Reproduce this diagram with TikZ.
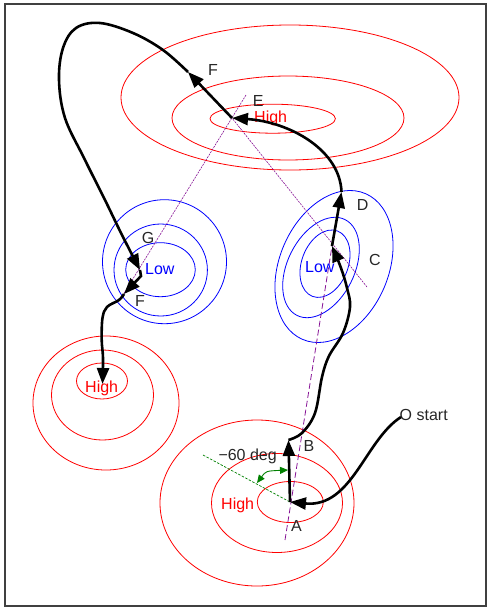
\documentclass[tikz,border=0pt]{standalone}
\usepackage{fontspec}
\setmainfont{Liberation Sans}
\usetikzlibrary{arrows.meta}
\definecolor{purp}{RGB}{135,20,150}
\definecolor{dgreen}{RGB}{0,128,0}
\begin{document}
\begin{tikzpicture}[x=1pt,y=-1pt,
  hi/.style={draw=red, line width=0.8pt},
  lo/.style={draw=blue, line width=0.8pt},
  track/.style={line width=2.6pt, -{Triangle[length=16pt,width=12pt]}},
  lbl/.style={anchor=base west, inner sep=0pt, font=\fontsize{16}{18}\selectfont, text=black!85},
  hilbl/.style={lbl, text=red},
  lolbl/.style={lbl, text=blue},
  axisdash/.style={draw=purp, dash pattern=on 6pt off 3pt, line width=0.8pt},
  axisdot/.style={draw=purp, dash pattern=on 2pt off 1pt, line width=0.6pt},
  greendash/.style={draw=dgreen, dash pattern=on 2.5pt off 1.5pt, line width=0.7pt},
  greenarc/.style={draw=dgreen, line width=0.9pt, {Triangle[length=8pt,width=7pt]}-{Triangle[length=8pt,width=7pt]}}
]
\useasboundingbox (0,0) rectangle (487,608);
\draw[black!75, line width=1.2pt] (5,4) rectangle (486,606);

% pressure systems
\draw[hi] (290,97.5) ellipse [x radius=169, y radius=72.5];
\draw[hi] (288,118) ellipse [x radius=116, y radius=42];
\draw[hi] (272.7,118.7) ellipse [x radius=62.7, y radius=14.5];

\draw[lo] (164.5,261.7) ellipse [x radius=62, y radius=62];
\draw[lo] (160.7,270) ellipse [x radius=46.7, y radius=46];
\draw[lo] (160.5,269.7) ellipse [x radius=34.8, y radius=27];

\draw[lo, rotate around={66.6:(334,266.5)}] (334,266.5) ellipse [x radius=79.4, y radius=54.4];
\draw[lo, rotate around={63.4:(321,267.5)}] (321,267.5) ellipse [x radius=53.6, y radius=33.4];
\draw[lo, rotate around={69:(325,263.7)}] (325,263.7) ellipse [x radius=35, y radius=23.2];

\draw[hi] (106,403) ellipse [x radius=73, y radius=67];
\draw[hi] (102.5,395) ellipse [x radius=51, y radius=45];
\draw[hi] (102,381) ellipse [x radius=25.5, y radius=18];

\draw[hi] (257,503) ellipse [x radius=97, y radius=83];
\draw[hi] (277,503) ellipse [x radius=65.5, y radius=49.5];
\draw[hi] (290.3,502) ellipse [x radius=33, y radius=20.5];

% track points
\coordinate (start) at (401,417);
\coordinate (A) at (290,502);
\coordinate (B) at (288.5,440);
\coordinate (C) at (332,246);
\coordinate (D) at (341.5,192);
\coordinate (E) at (232,118);
\coordinate (F) at (188,72);
\coordinate (G) at (140,270);
\coordinate (g1) at (141,276);
\coordinate (Fp) at (124,294);
\coordinate (H3) at (102.5,384);

% axes
\coordinate (p1) at (285,540);
\coordinate (p2) at (367,287);
\coordinate (p3) at (246,95);
\coordinate (p4) at (123,295);
\draw[axisdash] (p1) -- (C);
\draw[axisdot] (p2) -- (E);
\draw[axisdot] (p3) -- (p4);

% angle
\coordinate (gd) at (203,455);
\coordinate (ga1) at (257,483);
\coordinate (ga2) at (288,470);
\draw[greendash] (gd) -- (A);
\draw[greenarc] (ga1) .. controls (266,471) .. (ga2);

% labels
\node[hilbl] (tH) at (254,122) {High};
\node[lbl] (lE) at (252.7,106.7) {E};
\node[lbl] (lF) at (208,75) {F};
\node[lolbl] (lL) at (145,274) {Low};
\node[lbl] (lG) at (141.7,243.3) {G};
\node[lbl] (lF2) at (135,306) {F};
\node[lolbl] (rL) at (305,272.7) {Low};
\node[lbl] (lD) at (356.7,210) {D};
\node[lbl] (lC) at (369,265) {C};
\node[hilbl] (lH) at (85,392.3) {High};
\node[hilbl] (bH) at (221,509) {High};
\node[lbl] (lA) at (291,531.7) {A};
\node[lbl] (lB) at (303.3,451.7) {B};
\node[lbl] (ls) at (399.5,420) {O start};
\node[lbl] (ld) at (218.3,460) {−60 deg};

% track
\draw[track] (start) .. controls (365,440) and (352,508) .. (A);
\draw[track] (A) -- (B);
\draw[track] plot[smooth, tension=0.6] coordinates {(B) (302,433) (315,413) (322,377) (329,356) (343,333) (350,307) (347,288) (341,268) (C)};
\draw[track] (C) -- (D);
\draw[track] (D) .. controls (340,150) and (290,122) .. (E);
\draw[track] (E) -- (F);
\draw[track] plot[smooth, tension=0.6] coordinates {(F) (163,50) (133,33) (100,23) (76,28) (63,48) (59,80) (65,118) (84,158) (105,200) (122,235) (G)};
\draw[track] (G) -- (g1) -- (Fp);
\draw[track] plot[smooth, tension=0.6] coordinates {(Fp) (119,300) (107,307) (102.5,318) (101.7,340) (103,358) (H3)};
\end{tikzpicture}
\end{document}
